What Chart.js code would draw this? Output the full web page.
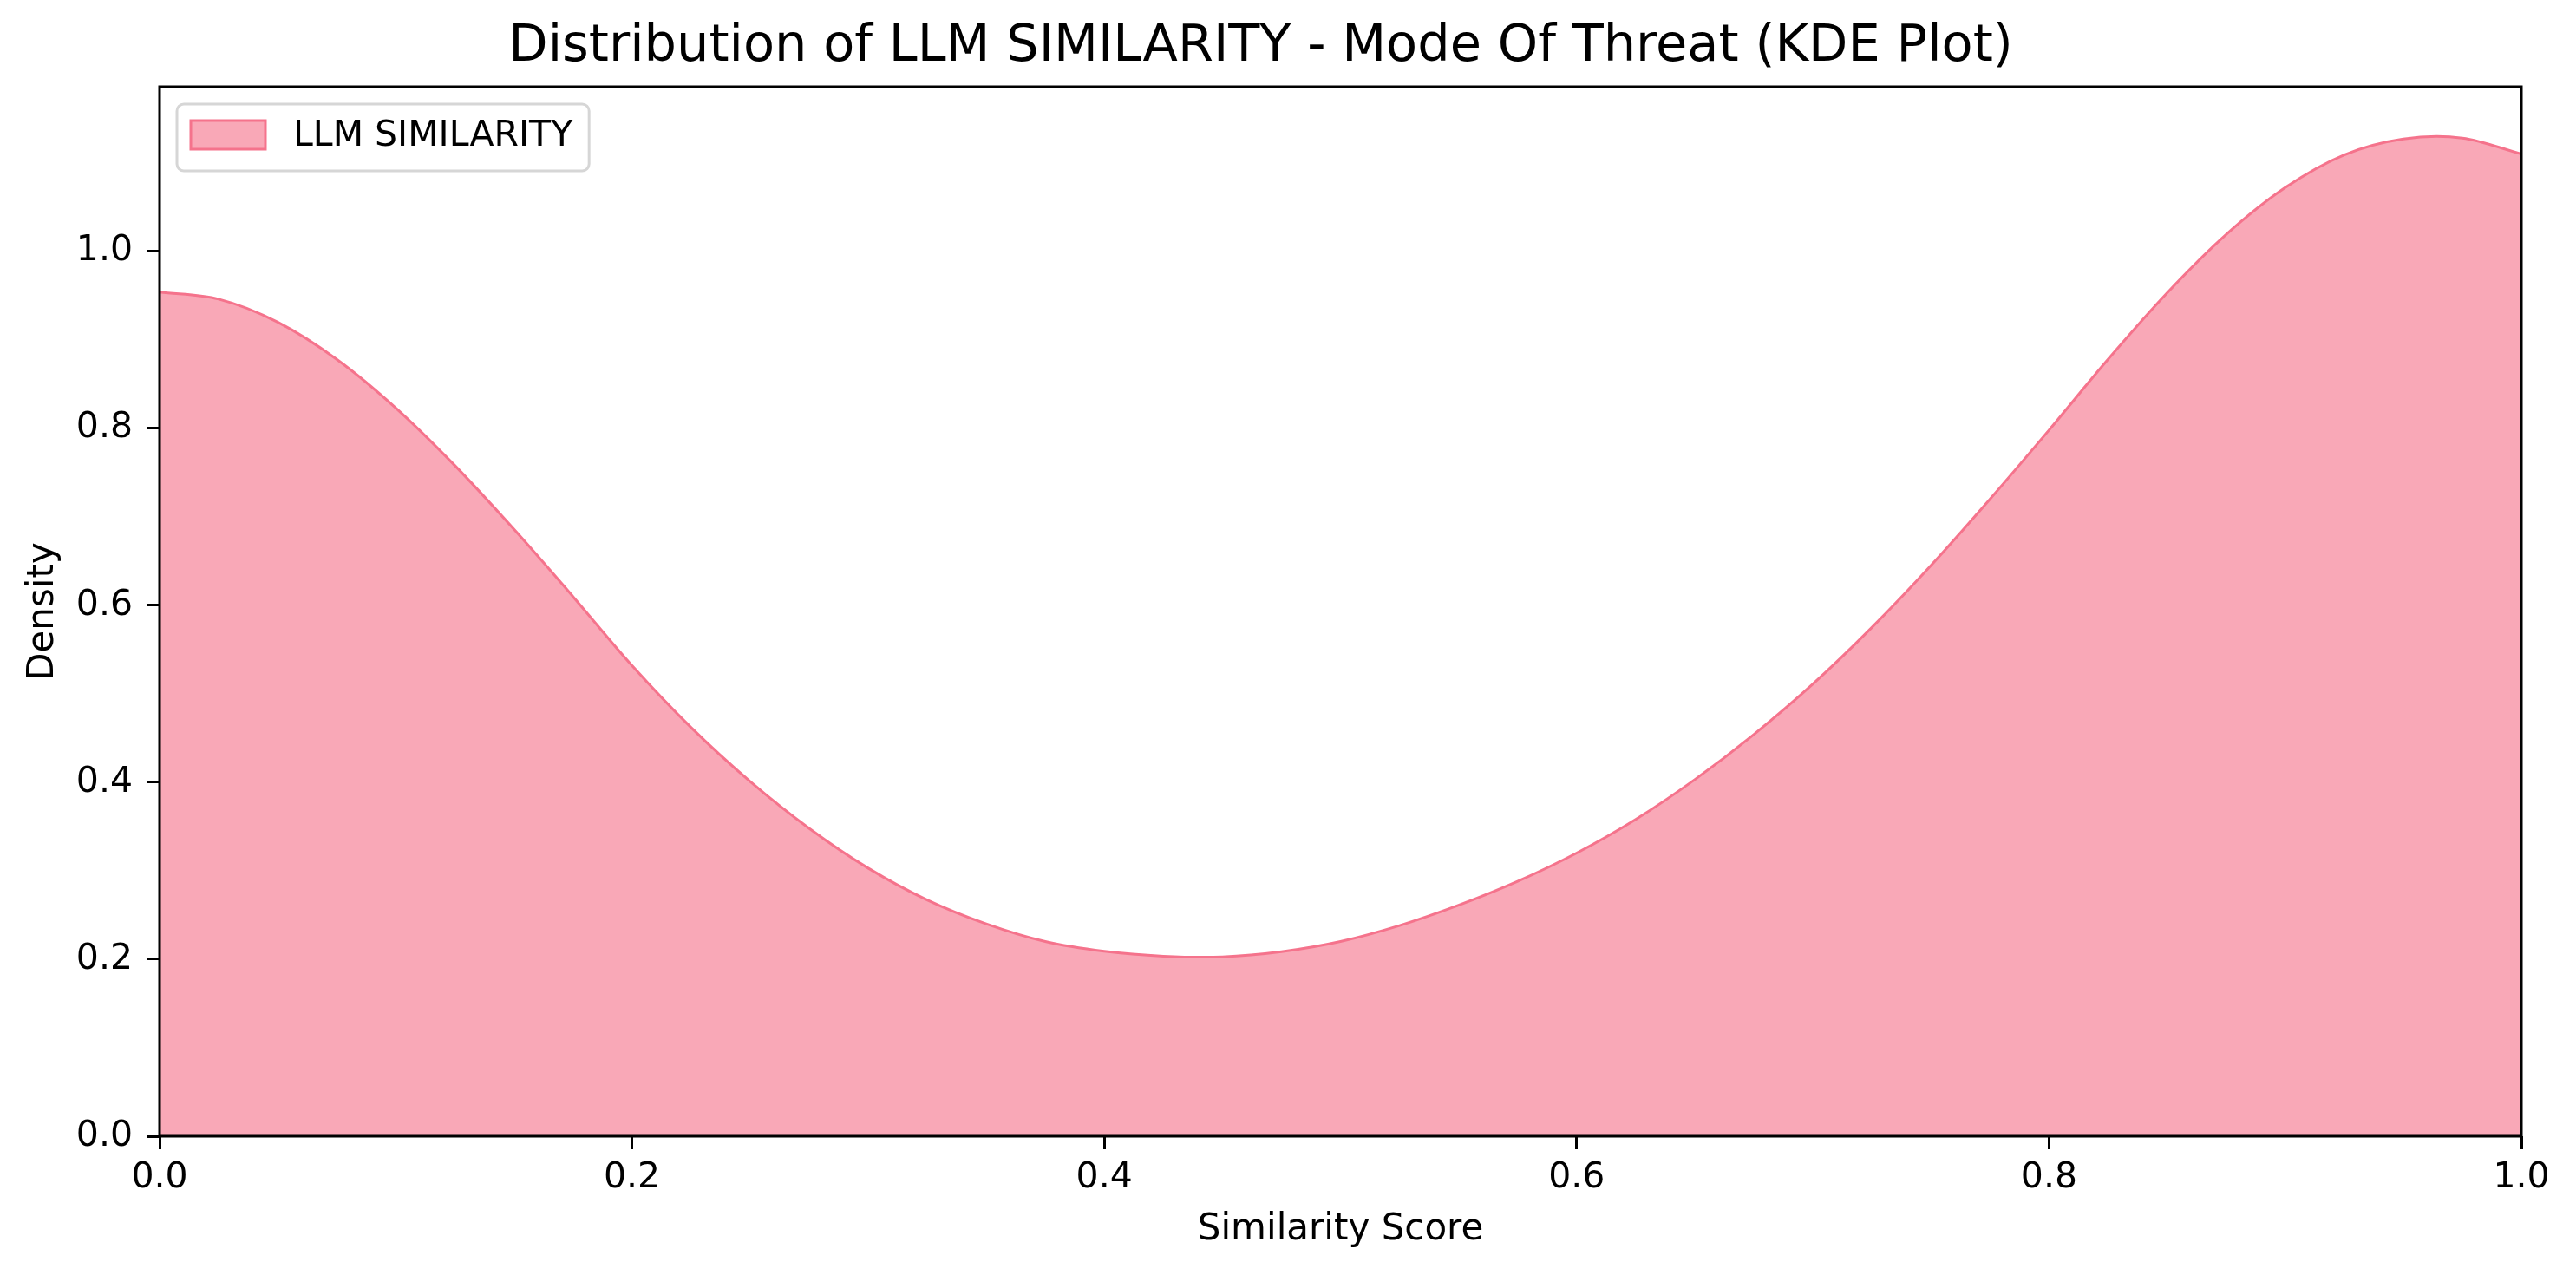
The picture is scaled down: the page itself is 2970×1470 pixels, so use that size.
<!DOCTYPE html>
<html>
<head>
<meta charset="utf-8">
<title>Distribution of LLM SIMILARITY - Mode Of Threat (KDE Plot)</title>
<script src="https://cdn.jsdelivr.net/npm/chart.js@4.4.1/dist/chart.umd.min.js"></script>
<style>
    html, body { margin: 0; padding: 0; background: #ffffff; }
    canvas { display: block; }
</style>
</head>
<body>
<canvas id="kdeChart" width="2970" height="1470"></canvas>
<script>
const scores = [
    0.000, 0.025, 0.050, 0.075, 0.100, 0.125, 0.150, 0.175, 0.200, 0.225,
    0.250, 0.275, 0.300, 0.325, 0.350, 0.375, 0.400, 0.425, 0.450, 0.475,
    0.500, 0.525, 0.550, 0.575, 0.600, 0.625, 0.650, 0.675, 0.700, 0.725,
    0.750, 0.775, 0.800, 0.825, 0.850, 0.875, 0.900, 0.925, 0.950, 0.975,
    1.000
];

// Estimated KDE density for each score
const density = [
    0.954, 0.946, 0.920, 0.878, 0.823, 0.758, 0.686, 0.610, 0.532, 0.462,
    0.401, 0.348, 0.303, 0.267, 0.240, 0.220, 0.209, 0.2035, 0.2027, 0.2085,
    0.220, 0.238, 0.261, 0.288, 0.320, 0.358, 0.403, 0.454, 0.511, 0.575,
    0.645, 0.720, 0.798, 0.878, 0.953, 1.019, 1.072, 1.109, 1.127, 1.128,
    1.110
];

const seriesLabel = 'LLM SIMILARITY';
const xTicks = [0, 0.2, 0.4, 0.6, 0.8, 1.0];
const yTicks = [0, 0.2, 0.4, 0.6, 0.8, 1.0];
const yMax = 1.186;

const FONT = 'DejaVu Sans';
const lineColor = '#f5738c';
const fillColor = '#f9a8b7';

Chart.defaults.color = '#000';
Chart.defaults.font.family = FONT;

// Black box around the plotting area (all four spines)
const framePlugin = {
    id: 'frame',
    afterDatasetsDraw(chart) {
        const { ctx, chartArea: a } = chart;
        ctx.save();
        ctx.strokeStyle = '#000';
        ctx.lineWidth = 3;
        ctx.strokeRect(a.left, a.top, a.right - a.left, a.bottom - a.top);
        ctx.restore();
    }
};

// Legend drawn inside the axes, upper left
const innerLegend = {
    id: 'innerLegend',
    afterDraw(chart) {
        const { ctx, chartArea: a } = chart;
        const ds = chart.data.datasets[0];
        const x = a.left + 20;
        const y = a.top + 20;
        ctx.save();
        ctx.font = '41px "' + FONT + '"';
        const textW = ctx.measureText(ds.label).width;
        const w = 134 + textW + 19;
        const h = 77;

        ctx.beginPath();
        ctx.roundRect(x, y, w, h, 8);
        ctx.fillStyle = 'rgba(255,255,255,0.8)';
        ctx.fill();
        ctx.lineWidth = 3;
        ctx.strokeStyle = '#d6d6d6';
        ctx.stroke();

        // swatch
        ctx.fillStyle = ds.backgroundColor;
        ctx.fillRect(x + 16, y + 19, 86, 33);
        ctx.lineWidth = 3;
        ctx.strokeStyle = ds.borderColor;
        ctx.strokeRect(x + 16, y + 19, 86, 33);

        ctx.fillStyle = '#000';
        ctx.textBaseline = 'middle';
        ctx.textAlign = 'left';
        ctx.fillText(ds.label, x + 134, y + 37);
        ctx.restore();
    }
};

const points = scores.map((s, i) => ({ x: s, y: density[i] }));

new Chart(document.getElementById('kdeChart').getContext('2d'), {
    type: 'line',
    data: {
        datasets: [{
            label: seriesLabel,
            data: points,
            borderColor: lineColor,
            backgroundColor: fillColor,
            borderWidth: 3,
            fill: 'origin',
            tension: 0.33,
            pointRadius: 0,
            pointHoverRadius: 0
        }]
    },
    options: {
        responsive: false,
        maintainAspectRatio: false,
        devicePixelRatio: 1,
        animation: false,
        events: [],
        layout: {
            padding: { left: 0, right: 63, top: 0, bottom: 0 }
        },
        plugins: {
            legend: { display: false },
            tooltip: { enabled: false },
            title: {
                display: true,
                text: 'Distribution of LLM SIMILARITY - Mode Of Threat (KDE Plot)',
                color: '#000',
                font: { family: FONT, size: 59, weight: 'normal', lineHeight: 1.2 },
                padding: { top: 19, bottom: 10.2 }
            }
        },
        scales: {
            x: {
                type: 'linear',
                min: 0,
                max: 1,
                afterFit: function(scale) { scale.height = 160; },
                afterBuildTicks: function(scale) {
                    scale.ticks = xTicks.map(v => ({ value: v }));
                },
                border: { display: false },
                grid: {
                    drawOnChartArea: false,
                    drawTicks: true,
                    tickLength: 15,
                    tickWidth: 3,
                    tickColor: '#000'
                },
                ticks: {
                    padding: 9,
                    maxRotation: 0,
                    autoSkip: false,
                    font: { size: 41, lineHeight: 1.2 },
                    callback: v => Number(v).toFixed(1)
                },
                title: {
                    display: true,
                    text: 'Similarity Score',
                    font: { size: 42, lineHeight: 1.2 },
                    padding: { top: 0, bottom: 27 }
                }
            },
            y: {
                type: 'linear',
                min: 0,
                max: yMax,
                afterFit: function(scale) { scale.width = 184; },
                afterBuildTicks: function(scale) {
                    scale.ticks = yTicks.map(v => ({ value: v }));
                },
                border: { display: false },
                grid: {
                    drawOnChartArea: false,
                    drawTicks: true,
                    tickLength: 15,
                    tickWidth: 3,
                    tickColor: '#000'
                },
                ticks: {
                    padding: 16,
                    autoSkip: false,
                    font: { size: 41, lineHeight: 1.2 },
                    callback: v => Number(v).toFixed(1)
                },
                title: {
                    display: true,
                    text: 'Density',
                    font: { size: 42, lineHeight: 1.2 },
                    padding: { top: 25, bottom: 0 }
                }
            }
        }
    },
    plugins: [framePlugin, innerLegend]
});
</script>
</body>
</html>
